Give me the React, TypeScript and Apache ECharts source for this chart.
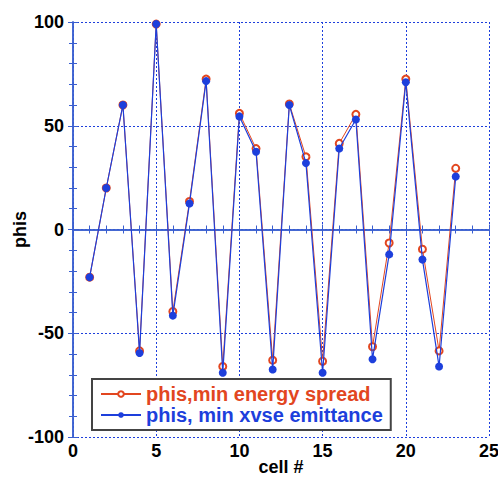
import React, { useEffect, useRef } from "react";
import * as echarts from "echarts";

const cells = [1, 2, 3, 4, 5, 6, 7, 8, 9, 10, 11, 12, 13, 14, 15, 16, 17, 18, 19, 20, 21, 22, 23];
const phisEnergy = [-23, 20, 60, -58.5, 99, -39.5, 13.5, 72.5, -66, 56, 39, -63, 60.5, 35, -63.5, 41.5, 55.5, -56.5, -6.5, 72.5, -9.5, -58.5, 29.5];
const phisEmit = [-23, 20, 60, -59.5, 99, -41.5, 12.5, 71.5, -69, 54.5, 37.5, -67.5, 60, 32, -69, 39, 53, -62.5, -12, 71, -14.5, -66, 25.5];
const xTicks = [0, 5, 10, 15, 20, 25];
const yTicks = [-100, -50, 0, 50, 100];

const BLUE = "#1d3fdc";
const RED = "#e2461f";
const AXIS = "#3a5fd0";
const FONT = "Liberation Sans, Arial, sans-serif";

export default function App() {
  const ref = useRef<HTMLDivElement>(null);
  useEffect(() => {
    if (!ref.current) return;
    const chart = echarts.init(ref.current, undefined, { renderer: "svg" });
    const labelStyle = { color: "#000", fontWeight: "bold" as const, fontSize: 18, fontFamily: FONT };
    const baseX = {
      type: "value" as const,
      min: xTicks[0],
      max: xTicks[xTicks.length - 1],
      interval: 5,
      axisLine: { show: true, lineStyle: { color: AXIS, width: 1.5 } },
      axisTick: { show: true, inside: true, length: 5, lineStyle: { color: AXIS } },
      minorTick: { show: true, splitNumber: 5, length: 4, lineStyle: { color: AXIS } },
    };
    const baseY = {
      type: "value" as const,
      min: yTicks[0],
      max: yTicks[yTicks.length - 1],
      interval: 50,
      axisLine: { show: true, lineStyle: { color: AXIS, width: 1.5 } },
      axisTick: { show: true, inside: true, length: 5, lineStyle: { color: AXIS } },
      minorTick: { show: true, splitNumber: 5, length: 4, lineStyle: { color: AXIS } },
    };
    chart.setOption({
      animation: false,
      backgroundColor: "#fff",
      grid: { left: 73, right: 9, top: 22, bottom: 40, show: false, containLabel: false, outerBoundsMode: "none" },
      xAxis: [
        {
          ...baseX,
          position: "bottom",
          name: "cell #",
          nameLocation: "middle",
          nameGap: 21,
          nameMoveOverlap: false,
          nameTextStyle: labelStyle,
          axisLabel: { ...labelStyle, margin: 5 },
          splitLine: { show: true, lineStyle: { color: BLUE, type: [2, 2], width: 1 } },
        },
        {
          ...baseX,
          position: "top",
          axisLabel: { show: false },
          splitLine: { show: false },
        },
      ],
      yAxis: [
        {
          ...baseY,
          position: "left",
          name: "phis",
          nameLocation: "middle",
          nameGap: 44,
          nameMoveOverlap: false,
          nameTextStyle: labelStyle,
          axisLabel: { ...labelStyle, margin: 9 },
          splitLine: { show: true, lineStyle: { color: BLUE, type: [2, 2], width: 1 } },
        },
        {
          ...baseY,
          position: "right",
          axisLabel: { show: false },
          splitLine: { show: false },
        },
      ],
      legend: {
        orient: "vertical",
        left: 92,
        top: 379,
        padding: [5, 8, 5, 8],
        itemGap: 1,
        itemWidth: 40,
        itemHeight: 7,
        backgroundColor: "#fff",
        borderColor: "#444",
        borderWidth: 2,
        textStyle: { fontWeight: "bold", fontSize: 20, fontFamily: FONT },
        data: [
          { name: "phis,min energy spread", textStyle: { color: RED } },
          { name: "phis, min xvse emittance", textStyle: { color: BLUE } },
        ],
      },
      series: [
        {
          name: "phis,min energy spread",
          type: "line",
          data: cells.map((c, i) => [c, phisEnergy[i]]),
          symbol: "emptyCircle",
          symbolSize: 7,
          lineStyle: { color: RED, width: 1 },
          itemStyle: { color: RED, borderColor: RED, borderWidth: 1 },
          z: 2,
        },
        {
          name: "phis, min xvse emittance",
          type: "line",
          data: cells.map((c, i) => [c, phisEmit[i]]),
          symbol: "circle",
          symbolSize: 8,
          lineStyle: { color: BLUE, width: 1.2 },
          itemStyle: { color: BLUE },
          z: 3,
        },
      ],
    });
    return () => chart.dispose();
  }, []);
  return (
    <div
      ref={ref}
      style={{ position: "absolute", left: 0, top: 0, width: 498, height: 477, background: "#fff" }}
    />
  );
}
